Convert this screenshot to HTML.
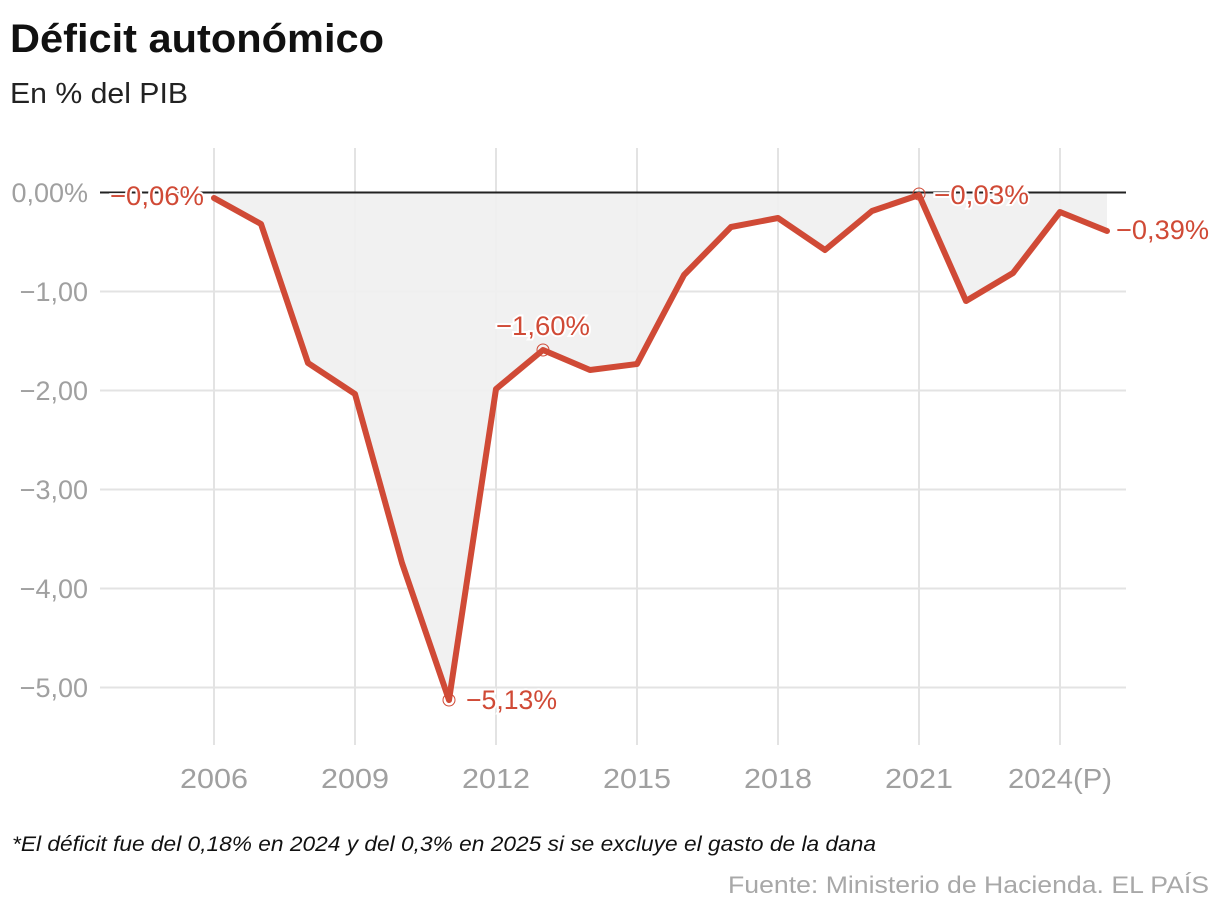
<!DOCTYPE html>
<html><head><meta charset="utf-8"><style>
body{margin:0;background:#fff;width:1220px;height:914px;overflow:hidden;font-family:"Liberation Sans",sans-serif}
</style></head><body>
<svg width="1220" height="914" xmlns="http://www.w3.org/2000/svg" font-family="Liberation Sans, sans-serif">
<text x="10" y="52" font-size="40" font-weight="bold" fill="#111" textLength="374" lengthAdjust="spacingAndGlyphs">Déficit autonómico</text>
<text x="10" y="103" font-size="29" fill="#222" textLength="178" lengthAdjust="spacingAndGlyphs">En % del PIB</text>
<g stroke="#e3e3e3" stroke-width="2">
<line x1="214" y1="148" x2="214" y2="745"/><line x1="355" y1="148" x2="355" y2="745"/>
<line x1="496" y1="148" x2="496" y2="745"/><line x1="637" y1="148" x2="637" y2="745"/>
<line x1="778" y1="148" x2="778" y2="745"/><line x1="919" y1="148" x2="919" y2="745"/>
<line x1="1060" y1="148" x2="1060" y2="745"/>
<line x1="100" y1="291.5" x2="1126" y2="291.5"/><line x1="100" y1="390.5" x2="1126" y2="390.5"/>
<line x1="100" y1="489.5" x2="1126" y2="489.5"/><line x1="100" y1="588.5" x2="1126" y2="588.5"/>
<line x1="100" y1="687.5" x2="1126" y2="687.5"/>
</g>
<polygon fill="#efefef" opacity="0.9" points="214,192.5 214,198 261,224 308,363 355,394 402,563 449,700 496,389 543,350 590,370 637,364 684,275 731,227 778,218 825,250 872,211 919,195 966,301 1013,273 1060,212 1107,231 1107,192.5"/>
<line x1="100" y1="192.5" x2="1126" y2="192.5" stroke="#222" stroke-width="2"/>
<g font-size="27" fill="#a0a0a0" text-anchor="end">
<text x="88" y="202">0,00%</text><text x="88" y="301">−1,00</text><text x="88" y="400">−2,00</text>
<text x="88" y="499">−3,00</text><text x="88" y="598">−4,00</text><text x="88" y="697">−5,00</text>
</g>
<g font-size="28" fill="#a0a0a0" text-anchor="middle">
<text x="214" y="788" textLength="68" lengthAdjust="spacingAndGlyphs">2006</text>
<text x="355" y="788" textLength="68" lengthAdjust="spacingAndGlyphs">2009</text>
<text x="496" y="788" textLength="68" lengthAdjust="spacingAndGlyphs">2012</text>
<text x="637" y="788" textLength="68" lengthAdjust="spacingAndGlyphs">2015</text>
<text x="778" y="788" textLength="68" lengthAdjust="spacingAndGlyphs">2018</text>
<text x="919" y="788" textLength="68" lengthAdjust="spacingAndGlyphs">2021</text>
<text x="1060" y="788" textLength="104" lengthAdjust="spacingAndGlyphs">2024(P)</text>
</g>
<polyline fill="none" stroke="#d04a36" stroke-width="6" stroke-linejoin="round" stroke-linecap="round" points="214,198 261,224 308,363 355,394 402,563 449,700 496,389 543,350 590,370 637,364 684,275 731,227 778,218 825,250 872,211 919,195 966,301 1013,273 1060,212 1107,231"/>
<g fill="none" stroke="#d04a36" stroke-width="1">
<circle cx="449" cy="700" r="6"/><circle cx="543" cy="350" r="6"/><circle cx="919" cy="194" r="6"/>
</g>
<g font-size="27" fill="#d04a36" stroke="#fff" stroke-width="4" paint-order="stroke">
<text x="110" y="205" textLength="94" lengthAdjust="spacingAndGlyphs">−0,06%</text>
<text x="496" y="335" textLength="94" lengthAdjust="spacingAndGlyphs">−1,60%</text>
<text x="466" y="709" textLength="91" lengthAdjust="spacingAndGlyphs">−5,13%</text>
<text x="934" y="204" textLength="95" lengthAdjust="spacingAndGlyphs">−0,03%</text>
<text x="1116" y="239" textLength="93" lengthAdjust="spacingAndGlyphs">−0,39%</text>
</g>
<text x="12" y="851" font-size="21" font-style="italic" fill="#111" textLength="864" lengthAdjust="spacingAndGlyphs">*El déficit fue del 0,18% en 2024 y del 0,3% en 2025 si se excluye el gasto de la dana</text>
<text x="1209" y="893" font-size="24" fill="#a8a8a8" text-anchor="end" textLength="481" lengthAdjust="spacingAndGlyphs">Fuente: Ministerio de Hacienda. EL PAÍS</text>
</svg>
</body></html>
